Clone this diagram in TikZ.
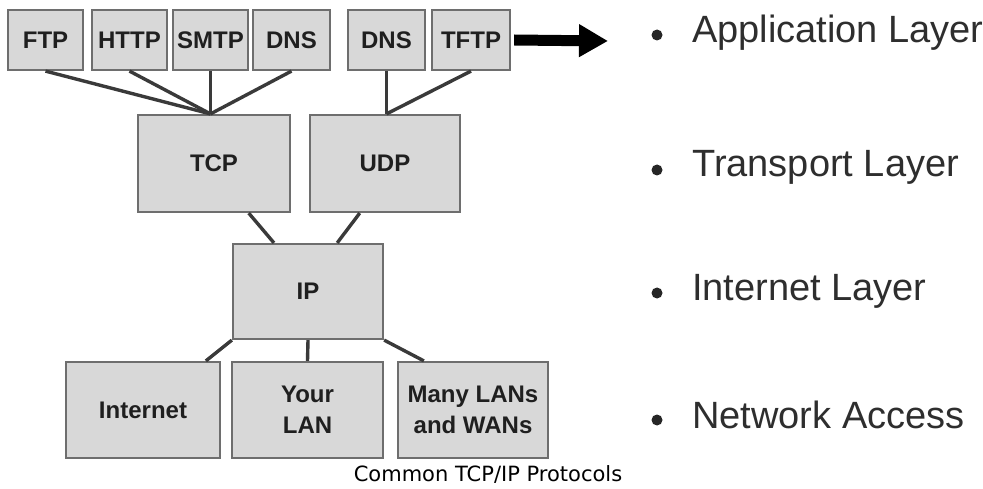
\documentclass[tikz,border=0pt]{standalone}
\usepackage{fontspec}
\setmainfont{Liberation Sans}
\newfontfamily\captionfont{DejaVu Sans}
\usepackage{tikz}
\usetikzlibrary{arrows.meta, positioning, calc}
\definecolor{myfill}{HTML}{D8D8D8}
\definecolor{myborder}{HTML}{6E6E6E}
\definecolor{mywire}{HTML}{3A3A3A}
\definecolor{mylayer}{HTML}{2E2E2E}
\tikzset{myboxstyle/.style = {draw=myborder,fill=myfill,line width=2.2pt,
		minimum width=#1,inner sep=0pt,align=center,text=black!88,
		font=\fontsize{24}{31}\selectfont\bfseries},
	mywirestyle/.style = {draw=mywire,line width=3.4pt},
	mylayerstyle/.style = {anchor=west,inner sep=0pt,text=mylayer,
		font=\fontsize{38}{40}\selectfont}}
\NewDocumentCommand{\fbullet}{m m}{%
	\node[circle,fill=black!85,inner sep=0pt,minimum size=11pt] (#1) at (657,#2) {};
}

\begin{document}
\begin{tikzpicture}[x=1pt,y=-1pt]
\useasboundingbox (0,0) rectangle (983,489);
% application protocols
\node[myboxstyle=75pt,minimum height=60pt] (ftp) at (45.5,40) {FTP};
\node[myboxstyle=75pt,minimum height=60pt] (http) at (129.5,40) {HTTP};
\node[myboxstyle=75pt,minimum height=60pt] (smtp) at (210.5,40) {SMTP};
\node[myboxstyle=77pt,minimum height=60pt] (dns) at (291.5,40) {DNS};
\node[myboxstyle=77pt,minimum height=60pt] (dnsb) at (386.5,40) {DNS};
\node[myboxstyle=78pt,minimum height=60pt] (tftp) at (471,40) {TFTP};
% transport
\node[myboxstyle=152pt,minimum height=97pt] (tcp) at (214,163.5) {TCP};
\node[myboxstyle=150pt,minimum height=97pt] (udp) at (385,163.5) {UDP};
% internet
\node[myboxstyle=150pt,minimum height=95pt] (ip) at (308,291.5) {IP};
% network access
\node[myboxstyle=154pt,minimum height=96pt] (inet) at (143,410) {Internet};
\node[myboxstyle=151pt,minimum height=96pt] (lan) at (307.5,410) {Your\\LAN};
\node[myboxstyle=150pt,minimum height=96pt] (wan) at (473,410) {Many LANs\\and WANs};

\coordinate (tcpin) at (smtp.south |- tcp.north);
\coordinate (udpin) at (dnsb.south |- udp.north);
\draw[mywirestyle] (ftp.south) -- (tcpin);
\draw[mywirestyle] (http.south) -- (tcpin);
\draw[mywirestyle] (smtp.south) -- (tcpin);
\draw[mywirestyle] (dns.south) -- (tcpin);
\draw[mywirestyle] (dnsb.south) -- (udpin);
\draw[mywirestyle] (tftp.south) -- (udpin);
\draw[mywirestyle] (tcp.-55) -- (ip.125);
\draw[mywirestyle] (udp.-117) -- (ip.59);
\draw[mywirestyle] (ip.south west) -- (inet.38);
\draw[mywirestyle] (ip.south) -- (lan.north);
\draw[mywirestyle] (ip.south east) -- (wan.135);

% big arrow to the layer names
\coordinate (arrowtip) at (608,41);
\draw[line width=11pt,-{Triangle[length=29pt,width=31pt]}] ([xshift=3pt]tftp.east) -- (arrowtip);

\fbullet{bapp}{35}
\fbullet{btrans}{170}
\fbullet{binet}{293}
\fbullet{bnet}{420}
\node[mylayerstyle] (app) at (692,33) {Application Layer};
\node[mylayerstyle] (trans) at (692,167) {Transport Layer};
\node[mylayerstyle] (inetl) at (692,291) {Internet Layer};
\node[mylayerstyle] (netacc) at (692,415) {Network Access};

\node[font=\captionfont\fontsize{21}{24}\selectfont,text=black] (caption) at (488,474) {Common TCP/IP Protocols};
\end{tikzpicture}
\end{document}
